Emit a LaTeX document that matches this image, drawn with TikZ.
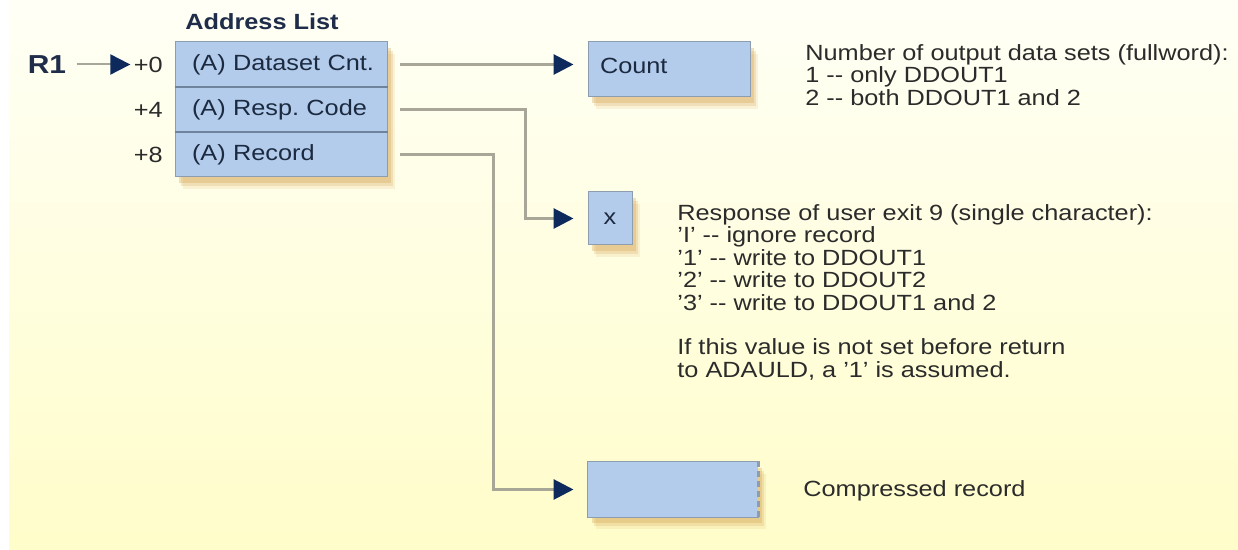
\documentclass[tikz,border=0pt]{standalone}
\usepackage{fontspec}
\setmainfont{Liberation Sans}[FakeStretch=1.15]
\usetikzlibrary{arrows.meta, shadows}
\frenchspacing

\definecolor{panel}{HTML}{FFFDC9}
\definecolor{paneltop}{HTML}{FFFFF6}
\definecolor{cellblue}{HTML}{B3CCEC}
\definecolor{cellline}{HTML}{8E9CB0}
\definecolor{rowline}{HTML}{6F849C}
\definecolor{linkgray}{HTML}{A8A696}
\definecolor{tipnavy}{HTML}{0E2A5C}
\definecolor{inktext}{HTML}{2B2B2B}
\definecolor{celltext}{HTML}{1C2A40}
\definecolor{titlenavy}{HTML}{1F2D4A}
\definecolor{shadowtan}{HTML}{D9A95C}

\begin{document}
\begin{tikzpicture}[x=0.5pt, y=-0.5pt, inner sep=0pt,
		font=\fontsize{11}{11.25}\selectfont,
		cell/.style={text width=95pt, inner xsep=8.5pt, align=left, minimum height=22.5pt, text=celltext},
		boxed/.style={draw=cellline, line width=0.5pt, fill=cellblue, text=celltext,
			general shadow={shadow xshift=4pt, shadow yshift=-6pt, fill=shadowtan, opacity=0.15},
			general shadow={shadow xshift=3pt, shadow yshift=-4.5pt, fill=shadowtan, opacity=0.25},
			general shadow={shadow xshift=2pt, shadow yshift=-3pt, fill=shadowtan, opacity=0.35}},
		offset/.style={anchor=east, text=inktext},
		note/.style={anchor=north west, align=left, text=inktext},
		link/.style={draw=linkgray, line width=1.5pt, -{Triangle[length=10pt, width=10pt, color=tipnavy]}, shorten <=0.5pt, shorten >=7pt},
		ptr/.style={draw=linkgray, line width=1pt, -{Triangle[length=10pt, width=10pt, color=tipnavy]}, shorten <=5pt, shorten >=1.5pt}]
		\useasboundingbox (0,0) rectangle (1238,550);
		\fill[white] (0,0) rectangle (1238,550);
		\shade[top color=paneltop, bottom color=panel] (9,0) rectangle (1238,550);
		
		% address list
		\node[font=\fontsize{11}{11}\selectfont\bfseries, text=titlenavy] (title) at (262,22) {Address List};
		\node[boxed, minimum width=106pt, minimum height=67.5pt] (alist) at (281,109.5) {};
		\node[cell] (dcnt) at (287,64.5) {(A) Dataset Cnt.};
		\node[cell] (resp) at (287,109.5) {(A) Resp. Code};
		\node[cell] (rec) at (287,154.5) {(A) Record};
		\draw[rowline, line width=1pt] (dcnt.south -| alist.west) -- (dcnt.south -| alist.east);
		\draw[rowline, line width=1pt] (resp.south -| alist.west) -- (resp.south -| alist.east);
		
		\node[offset] (off0) at (163,64.5) {+0};
		\node[offset] (off4) at (163,109.5) {+4};
		\node[offset] (off8) at (163,154.5) {+8};
		\node[font=\fontsize{13}{13}\selectfont\bfseries, text=titlenavy] (r1) at (47,64.5) {R1};
		\draw[ptr] (r1) -- (off0);
		
		% targets
		\node[boxed, minimum width=81pt, minimum height=27.5pt, text width=69pt, inner xsep=6pt, align=left] (count) at (669,69.5) {\raisebox{3.5pt}{Count}};
		\node[boxed, minimum width=22pt, minimum height=26.5pt] (xbox) at (610,218.5) {x};
		\node[boxed, draw=none, minimum width=85pt, minimum height=27.5pt] (crec) at (673,489.5) {};
		\draw[cellline, line width=0.5pt] (crec.north east) -- (crec.north west) -- (crec.south west) -- (crec.south east);
		\draw[cellline, line width=1.5pt, dash pattern=on 3pt off 2pt] (crec.north east) -- (crec.south east);
		
		\coordinate (drop2) at (525,0);
		\coordinate (drop3) at (493,0);
		\draw[link] (dcnt.east) -- (dcnt.east -| count.west);
		\draw[link] (resp.east) -- (resp.east -| drop2) |- (xbox.west);
		\draw[link] (rec.east) -- (rec.east -| drop3) |- (crec.west);
		
		% notes
		\node[note] (countnote) at (805,44) {Number of output data sets (fullword):\\1 -{}- only DDOUT1\\2 -{}- both DDOUT1 and 2};
		\node[note] (respnote) at (677,204) {Response of user exit 9 (single character):\\'I' -{}- ignore record\\'1' -{}- write to DDOUT1\\'2' -{}- write to DDOUT2\\'3' -{}- write to DDOUT1 and 2\\[11pt]If this value is not set before return\\to ADAULD, a '1' is assumed.};
		\node[note, anchor=west] (crecnote) at (803,491) {Compressed record};
\end{tikzpicture}
\end{document}
